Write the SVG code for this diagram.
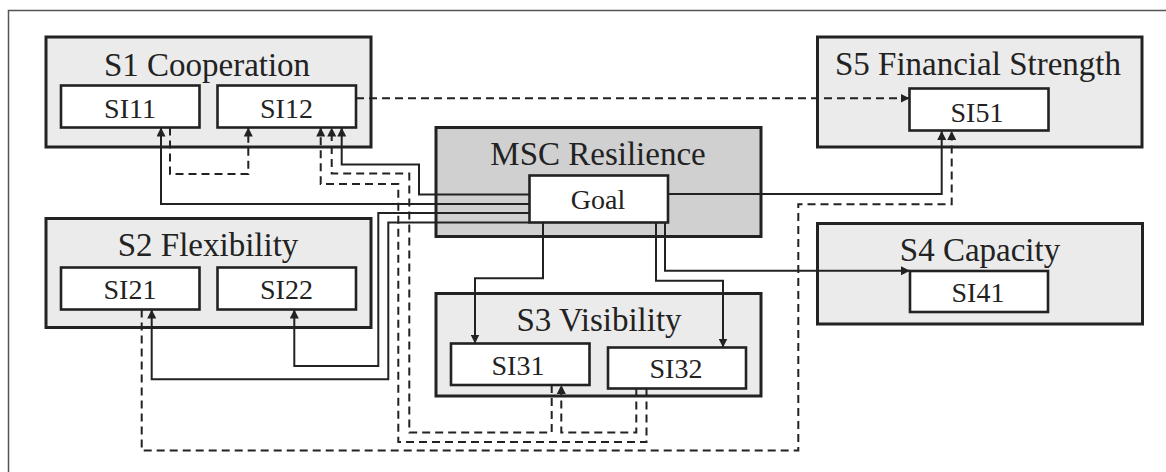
<svg xmlns="http://www.w3.org/2000/svg" width="1166" height="472" viewBox="0 0 1166 472">
<style>
.grp{fill:#ebebeb;stroke:#222;stroke-width:3}
.msc{fill:#d0d0d0;stroke:#222;stroke-width:3}
.si{fill:#fff;stroke:#222;stroke-width:2.6}
.t{font-family:"Liberation Serif","Times New Roman",serif;fill:#222;text-anchor:middle}
.tt{font-size:33px}
.ts{font-size:28px}
.c{fill:none;stroke:#222;stroke-width:2;marker-end:url(#arr)}
.d{stroke-dasharray:8,5}
</style>
<defs>
<marker id="arr" markerUnits="userSpaceOnUse" markerWidth="9" markerHeight="9" refX="9" refY="4.5" orient="auto">
<path d="M0,0 L9,4.5 L0,9 z" fill="#222"/>
</marker>
</defs>
<rect width="1166" height="472" fill="#fff"/>
<path d="M8.5,472 V10.5 H1166" fill="none" stroke="#555" stroke-width="1.5"/>

<g id="S1">
<rect class="grp" x="46" y="37" width="325" height="110"/>
<text class="t tt" x="207" y="76">S1 Cooperation</text>
</g>
<g id="SI11">
<rect class="si" x="61" y="85.5" width="138.5" height="42"/>
<text class="t ts" x="130" y="118">SI11</text>
</g>
<g id="SI12">
<rect class="si" x="217.5" y="85.5" width="138.5" height="42"/>
<text class="t ts" x="286.5" y="118">SI12</text>
</g>

<g id="S2">
<rect class="grp" x="46" y="218.5" width="325" height="109"/>
<text class="t tt" x="208" y="256">S2 Flexibility</text>
</g>
<g id="SI21">
<rect class="si" x="61" y="267.5" width="138.5" height="42"/>
<text class="t ts" x="130" y="299">SI21</text>
</g>
<g id="SI22">
<rect class="si" x="217.5" y="267.5" width="138.5" height="42"/>
<text class="t ts" x="286.5" y="299">SI22</text>
</g>

<g id="MSC">
<rect class="msc" x="436" y="127.5" width="325" height="109"/>
<text class="t tt" x="598" y="165">MSC Resilience</text>
</g>
<g id="Goal">
<rect class="si" x="529.5" y="175.5" width="138.5" height="47"/>
<text class="t ts" x="598" y="209">Goal</text>
</g>

<g id="S3">
<rect class="grp" x="436" y="293.5" width="325" height="102.5"/>
<text class="t tt" x="599" y="331">S3 Visibility</text>
</g>
<g id="SI31">
<rect class="si" x="451" y="343.5" width="138.5" height="41.5"/>
<text class="t ts" x="518" y="375">SI31</text>
</g>
<g id="SI32">
<rect class="si" x="608" y="347.5" width="138" height="41"/>
<text class="t ts" x="676" y="378">SI32</text>
</g>

<g id="S5">
<rect class="grp" x="817.5" y="37" width="324.5" height="110"/>
<text class="t tt" x="978" y="75">S5 Financial Strength</text>
</g>
<g id="SI51">
<rect class="si" x="909.5" y="88.5" width="139" height="42"/>
<text class="t ts" x="977" y="122">SI51</text>
</g>

<g id="S4">
<rect class="grp" x="817.5" y="223.5" width="325" height="100.5"/>
<text class="t tt" x="980" y="261">S4 Capacity</text>
</g>
<g id="SI41">
<rect class="si" x="910" y="271" width="138" height="41"/>
<text class="t ts" x="978" y="301.5">SI41</text>
</g>

<g id="connectors">
<path class="c" d="M529,204 H161 V127.5"/>
<path class="c" d="M529,194.5 H419 V164.5 H341.7 V127.5"/>
<path class="c" d="M529,213 H378.3 V366 H294.3 V309.5"/>
<path class="c" d="M529,222.5 H388.3 V379.3 H151.7 V309.5"/>
<path class="c" d="M668,194 H941.7 V131"/>
<path class="c" d="M665,223 V270.8 H910"/>
<path class="c" d="M656,223 V280.7 H723 V347.5"/>
<path class="c" d="M543,223 V278.3 H475 V343.5"/>

<path class="c d" d="M170,127.5 V174 H248.3 V127.5"/>
<path class="c d" d="M356,98.3 H909.5"/>
<path class="c d" d="M551.7,385 V432.5 H409.3 V173.5 H331.7 V127.5"/>
<path class="c d" d="M646.5,388.5 V442 H398.3 V184 H320.7 V127.5"/>
<path class="c d" d="M636.3,388.5 V432.5 H561.3 V385"/>
<path class="c d" d="M141.7,309.5 V450.5 H798.3 V204.3 H951.7 V131"/>
</g>
</svg>
